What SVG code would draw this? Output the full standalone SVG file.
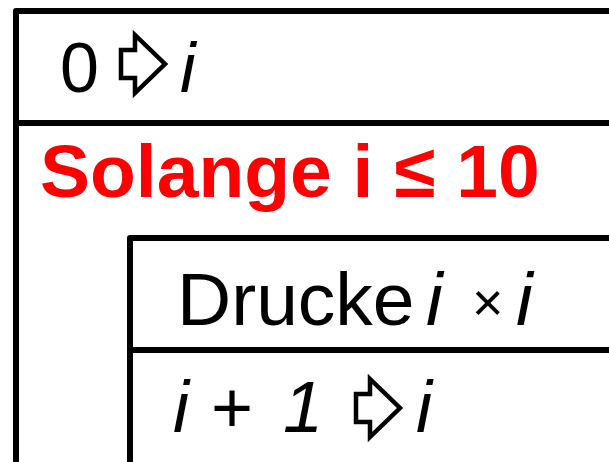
<svg xmlns="http://www.w3.org/2000/svg" width="609" height="462" viewBox="0 0 609 462">
<style>
.box{fill:none;stroke:#000;stroke-width:6;stroke-linejoin:round;stroke-linecap:butt}
.arr{fill:#fff;stroke:#000;stroke-width:4.5;stroke-linejoin:miter}
.t{font-family:"Liberation Sans",Arial,sans-serif;fill:#000}
.m{font-style:italic}
.x{font-size:54px;font-style:normal}
.r{font-family:"Liberation Sans",Arial,sans-serif;font-size:75px;font-weight:bold;fill:#f00}
</style>
<defs>
<polygon id="wa" points="0,-14 14,-14 14,-29 44,0 14,29 14,14 0,14"/>
</defs>
<rect width="609" height="462" fill="#fff"/>
<g id="init">
<path class="box" d="M16 470 V11 H620"/>
<text class="t" x="60" y="92" font-size="70">0</text>
<use href="#wa" class="arr" x="121" y="64"/>
<text class="t m" x="180" y="92" font-size="70">i</text>
</g>
<g id="loop">
<path class="box" d="M16 123 H620"/>
<text class="r" x="40" y="197">Solange i ≤ 10</text>
</g>
<g id="print">
<path class="box" d="M130 470 V238 H620"/>
<text class="t" x="177" y="325" font-size="75">Drucke<tspan class="m" x="426">i</tspan><tspan class="x" x="472" dy="-4">×</tspan><tspan class="m" x="516" dy="4">i</tspan></text>
</g>
<g id="incr">
<path class="box" d="M130 350 H620"/>
<text class="t" x="173" y="432" font-size="72"><tspan class="m">i</tspan><tspan x="211">+</tspan><tspan class="m" x="283">1</tspan></text>
<use href="#wa" class="arr" x="356" y="408"/>
<text class="t m" x="416" y="432" font-size="72">i</text>
</g>
</svg>
